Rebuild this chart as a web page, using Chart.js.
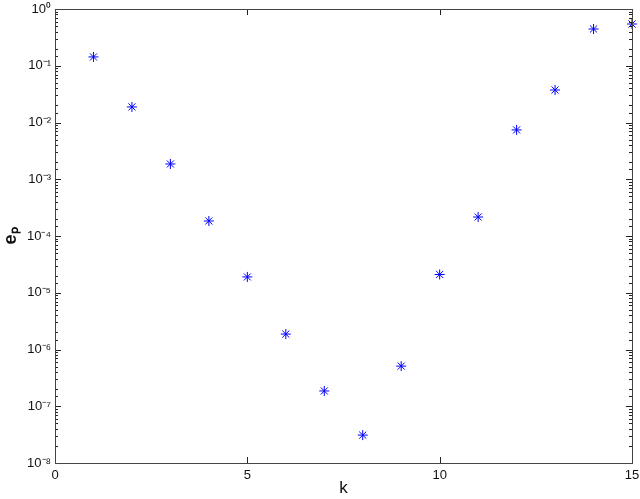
<!DOCTYPE html>
<html>
<head>
<meta charset="utf-8">
<script src="https://cdn.jsdelivr.net/npm/chart.js@4/dist/chart.umd.min.js"></script>
<style>
  html, body { margin: 0; padding: 0; background: #fff; }
  #wrap { width: 640px; height: 499px; }
</style>
</head>
<body>
<div id="wrap"><canvas id="c"></canvas></div>
<script>
// values
const kValues = [1, 2, 3, 4, 5, 6, 7, 8, 9, 10, 11, 12, 13, 14, 15];
const epValues = [0.143, 0.0188, 0.00186, 1.84e-4, 1.9e-5, 1.87e-6, 1.86e-7, 3.1e-8,
                  5.1e-7, 2.1e-5, 2.16e-4, 7.4e-3, 0.0374, 0.444, 0.544];
const xTicks = [0, 5, 10, 15];
const supDigits = { '0': '⁰', '1': '¹', '2': '²', '3': '³', '4': '⁴', '5': '⁵', '6': '⁶', '7': '⁷', '8': '⁸', '9': '⁹', '-': '⁻' };

function isDecade(v) {
  const e = Math.log10(v);
  return Math.abs(e - Math.round(e)) < 1e-6;
}
function decadeLabel(v) {
  const e = String(Math.round(Math.log10(v)));
  return '10' + e.split('').map(ch => supDigits[ch]).join('');
}

// MATLAB-like box with inward ticks on all four sides
const boxTicks = {
  id: 'boxTicks',
  afterDatasetsDraw(chart) {
    const { ctx, chartArea: a, scales } = chart;
    ctx.save();
    ctx.strokeStyle = '#222';
    ctx.lineWidth = 1;
    ctx.beginPath();
    scales.x.ticks.forEach(t => {
      const px = Math.round(scales.x.getPixelForValue(t.value)) + 0.5;
      ctx.moveTo(px, a.bottom); ctx.lineTo(px, a.bottom - 6);
      ctx.moveTo(px, a.top); ctx.lineTo(px, a.top + 6);
    });
    scales.y.ticks.forEach(t => {
      const py = Math.round(scales.y.getPixelForValue(t.value)) + 0.5;
      const len = isDecade(t.value) ? 6 : 3;
      ctx.moveTo(a.left, py); ctx.lineTo(a.left + len, py);
      ctx.moveTo(a.right, py); ctx.lineTo(a.right - len, py);
    });
    ctx.stroke();
    ctx.strokeStyle = '#444';
    ctx.strokeRect(Math.round(a.left) + 0.5, Math.round(a.top) + 0.5,
                   Math.round(a.right - a.left), Math.round(a.bottom - a.top));
    ctx.restore();
  }
};

new Chart(document.getElementById('c'), {
  type: 'scatter',
  data: {
    datasets: [{
      data: kValues.map((k, i) => ({ x: k, y: epValues[i] })),
      pointStyle: 'star',
      radius: 5,
      borderColor: '#0000ff',
      backgroundColor: '#0000ff',
      borderWidth: 1,
      clip: false,
    }],
  },
  options: {
    responsive: true,
    maintainAspectRatio: false,
    animation: false,
    layout: { padding: { top: 9, right: 8, left: 0, bottom: 0 } },
    plugins: { legend: { display: false }, tooltip: { enabled: false } },
    scales: {
      x: {
        type: 'linear',
        min: 0,
        max: 15,
        afterBuildTicks: s => { s.ticks = xTicks.map(v => ({ value: v })); },
        grid: { display: false, drawTicks: false },
        border: { display: false },
        ticks: { color: '#111', padding: 5, font: { family: 'Liberation Sans', size: 13 } },
        title: { display: true, text: 'k', color: '#111', padding: { top: 0, bottom: 0 },
                 font: { family: 'Liberation Sans', size: 17 } },
        afterFit: s => { s.height = 36; s.paddingLeft = 0; s.paddingRight = 0; },
      },
      y: {
        type: 'logarithmic',
        min: 1e-8,
        max: 1,
        grid: { display: false, drawTicks: false },
        border: { display: false },
        ticks: {
          autoSkip: false,
          color: '#111',
          padding: 4,
          font: { family: 'Liberation Sans', size: 13 },
          callback: v => isDecade(v) ? decadeLabel(v) : '',
        },
        title: { display: true, text: 'eₚ', color: '#111', padding: { top: 0, bottom: 0 },
                 font: { family: 'Liberation Sans', size: 18, weight: 'bold' } },
        afterFit: s => { s.width = 55; s.paddingTop = 0; s.paddingBottom = 0; },
      },
    },
  },
  plugins: [boxTicks],
});
</script>
</body>
</html>
